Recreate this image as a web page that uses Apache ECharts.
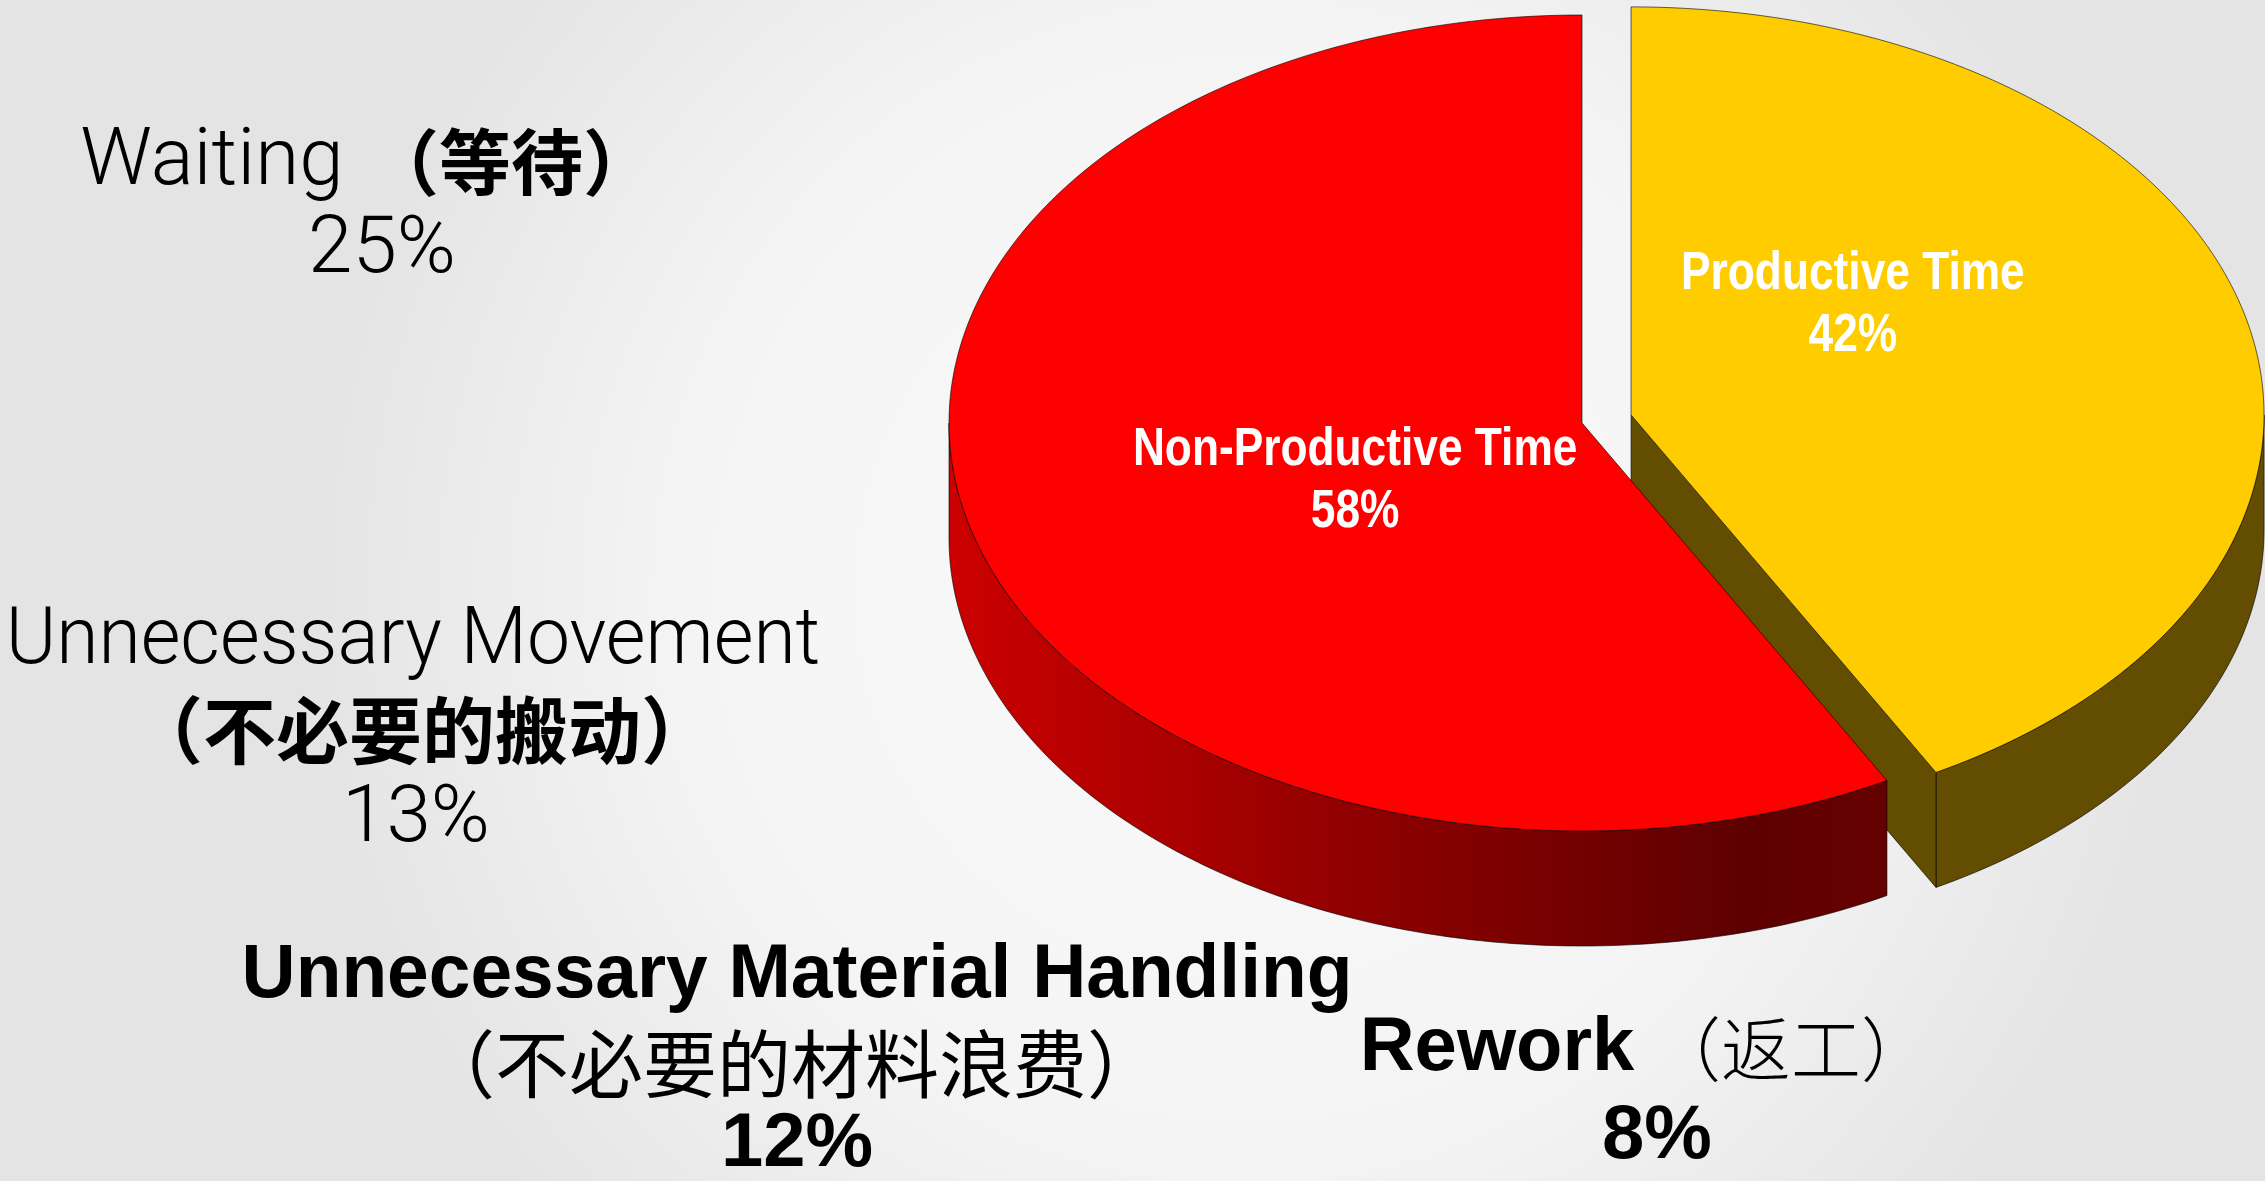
<!DOCTYPE html>
<html>
<head>
<meta charset="utf-8">
<title>Productive vs Non-Productive Time</title>
<script src="https://cdn.jsdelivr.net/npm/echarts@6/dist/echarts.min.js"></script>
<style>
  html, body { margin: 0; padding: 0; }
  #chart { width: 2265px; height: 1181px; }
</style>
</head>
<body>
<div id="chart"></div>
<script>
  // pie slices, clockwise from 12 o'clock
  var sliceNames = ['Productive Time', 'Non-Productive Time'];
  var sliceValues = [42, 58];

  // breakdown of the non-productive time
  var wasteNames = ['Waiting', 'Unnecessary Movement', 'Unnecessary Material Handling', 'Rework'];
  var wasteNamesZh = ['（等待）', '（不必要的搬动）', '（不必要的材料浪费）', '（返工）'];
  var wasteValues = [25, 13, 12, 8];

  // 3d pie geometry (ellipse seen from above, with a side wall)
  var pie = { cx: 1582, cy: 423, rx: 633, ry: 408, depth: 115 };

  var redSide = new echarts.graphic.LinearGradient(0, 0, 1, 0, [
    { offset: 0, color: '#CC0000' },
    { offset: 0.45, color: '#8E0000' },
    { offset: 0.85, color: '#5E0000' },
    { offset: 1, color: '#660000' }
  ]);
  var sliceStyle = [
    { top: '#FFCC00', side: '#634D00', explode: 0.08, labelDx: -5, labelDy: -72 },
    { top: '#FF0000', side: redSide, explode: 0, labelDx: 0, labelDy: 21 }
  ];
  var edge = 'rgba(0,0,0,0.6)';
  var labelFont = 'Liberation Sans, Arial, sans-serif';

  var total = 0, cum = [];
  sliceValues.forEach(function (v) { cum.push(total); total += v; });

  function arc(cx, cy, a, b, dz) {
    var pts = [];
    var n = Math.max(8, Math.ceil((b - a) / (Math.PI / 180)));
    for (var k = 0; k <= n; k++) {
      var t = a + (b - a) * k / n;
      pts.push([cx + pie.rx * Math.sin(t), cy - pie.ry * Math.cos(t) + dz]);
    }
    return pts;
  }

  function renderSlice(params, api) {
    var i = params.dataIndex;
    var v = api.value(0);
    var st = sliceStyle[i];
    var a = cum[i] / total * Math.PI * 2;
    var b = (cum[i] + v) / total * Math.PI * 2;
    var mid = (a + b) / 2;
    var cx = pie.cx + st.explode * pie.rx * Math.sin(mid);
    var cy = pie.cy - st.explode * pie.ry * Math.cos(mid);
    var d = pie.depth;
    var kids = [];

    // front part of the outer wall
    var wa = Math.max(a, Math.PI / 2), wb = Math.min(b, Math.PI * 1.5);
    if (wb > wa) {
      var up = arc(cx, cy, wa, wb, 0);
      var down = arc(cx, cy, wa, wb, d).reverse();
      kids.push({ type: 'polygon', shape: { points: up.concat(down) },
        style: { fill: st.side, stroke: edge, lineWidth: 1 } });
    }
    // radial cut faces that turn toward the viewer
    [[b, Math.sin(b) > 0.01], [a, Math.sin(a) < -0.01]].forEach(function (f) {
      if (!f[1]) return;
      var ex = cx + pie.rx * Math.sin(f[0]), ey = cy - pie.ry * Math.cos(f[0]);
      kids.push({ type: 'polygon',
        shape: { points: [[cx, cy], [ex, ey], [ex, ey + d], [cx, cy + d]] },
        style: { fill: st.side, stroke: edge, lineWidth: 1 } });
    });
    // top face
    kids.push({ type: 'polygon', shape: { points: [[cx, cy]].concat(arc(cx, cy, a, b, 0)) },
      style: { fill: st.top, stroke: edge, lineWidth: 1 } });

    // label
    var lx = cx + 0.37 * pie.rx * Math.sin(mid) + st.labelDx;
    var ly = cy - 0.37 * pie.ry * Math.cos(mid) + st.labelDy;
    var pct = Math.round(v / total * 100) + '%';
    [[sliceNames[i], ly - 31], [pct, ly + 31]].forEach(function (t) {
      kids.push({ type: 'text', x: lx, y: t[1], scaleX: 0.82,
        style: { text: t[0], fill: '#FFFFFF', fontFamily: labelFont, fontWeight: 'bold', fontSize: 54,
          align: 'center', verticalAlign: 'middle', textAlign: 'center', textVerticalAlign: 'middle' } });
    });
    return { type: 'group', children: kids };
  }

  // side notes: fonts and places of the breakdown texts
  var thin = { fontFamily: 'Roboto, Lato, sans-serif', fontWeight: 300, fontSize: 80 };
  var heavy = { fontFamily: 'Liberation Sans, Arial, sans-serif', fontWeight: 'bold', fontSize: 76 };
  var zhFace = 'Noto Sans CJK SC';
  var wasteLayout = [
    { name: [212, 164], zh: [511, 162], pct: [382, 252], nameFont: thin, pctFont: thin, nameScale: 1,
      zhFont: { fontFamily: zhFace, fontWeight: 'bold', fontSize: 72 } },
    { name: [413, 643], zh: [422, 730], pct: [416, 821], nameFont: thin, pctFont: thin, nameScale: 0.96,
      zhFont: { fontFamily: zhFace, fontWeight: 'bold', fontSize: 73 } },
    { name: [797, 976], zh: [791, 1064], pct: [797, 1145], nameFont: heavy, pctFont: heavy, nameScale: 0.985,
      zhFont: { fontFamily: zhFace, fontWeight: 'normal', fontSize: 74 } },
    { name: [1497, 1049], zh: [1791, 1049], pct: [1657, 1137], nameFont: heavy, pctFont: heavy, nameScale: 1,
      zhFont: { fontFamily: zhFace, fontWeight: 300, fontSize: 70 } }
  ];

  function note(pos, text, font, sx) {
    return { type: 'text', x: pos[0], y: pos[1], scaleX: sx || 1, silent: true,
      style: Object.assign({ text: text, fill: '#000000', align: 'center', verticalAlign: 'middle',
        textAlign: 'center', textVerticalAlign: 'middle' }, font) };
  }
  var notes = [];
  wasteNames.forEach(function (n, i) {
    var L = wasteLayout[i];
    notes.push(note(L.name, n, L.nameFont, L.nameScale));
    notes.push(note(L.zh, wasteNamesZh[i], L.zhFont));
    notes.push(note(L.pct, wasteValues[i] + '%', L.pctFont));
  });

  var myChart = echarts.init(document.getElementById('chart'));
  myChart.setOption({
    backgroundColor: new echarts.graphic.RadialGradient(0.55, 0.5, 0.8, [
      { offset: 0, color: '#FAFAFA' },
      { offset: 0.6, color: '#F4F4F4' },
      { offset: 1, color: '#E4E4E4' }
    ]),
    animation: false,
    graphic: notes,
    series: [{
      type: 'custom',
      coordinateSystem: 'none',
      silent: true,
      data: sliceValues.map(function (v, i) { return { name: sliceNames[i], value: v }; }),
      renderItem: renderSlice
    }]
  });
</script>
</body>
</html>
